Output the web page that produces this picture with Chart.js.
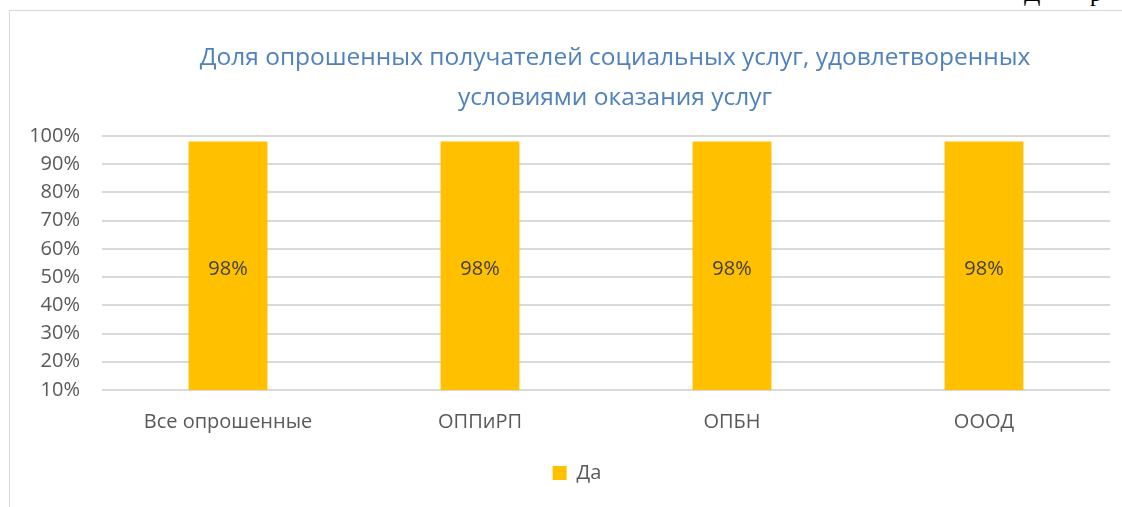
<!DOCTYPE html>
<html>
<head>
<meta charset="utf-8">
<script src="https://cdn.jsdelivr.net/npm/chart.js@4"></script>
<style>
  html, body { margin: 0; padding: 0; background: #fff; overflow: hidden; }
  #wrap { position: relative; width: 1122px; height: 507px; }
  #frame { position: absolute; left: 9px; top: 10px; width: 1200px; height: 600px;
           border-top: 1px solid #d9d9d9; border-left: 1px solid #d9d9d9; }
  .cut { position: absolute; top: -20px; font-family: "Liberation Serif", serif; font-size: 24px; color: #000; }
  canvas { position: absolute; left: 0; top: 0; }
</style>
</head>
<body>
<div id="wrap">
  <div id="frame"></div>
  <span class="cut" style="left:1024px">Д</span>
  <span class="cut" style="left:1090px">р</span>
  <canvas id="chart" width="1122" height="507"></canvas>
</div>
<script>
const categories = ['Все опрошенные', 'ОППиРП', 'ОПБН', 'ОООД'];
const seriesName = 'Да';
const values = [98, 98, 98, 98];
const titleLines = ['Доля опрошенных получателей социальных услуг, удовлетворенных', 'условиями оказания услуг'];

const FONT = '"Open Sans", "Noto Sans", sans-serif';

// puts "98%" in the middle of the visible part of each bar
const barLabels = {
  id: 'barLabels',
  afterDatasetsDraw(chart) {
    const ctx = chart.ctx;
    const meta = chart.getDatasetMeta(0);
    const bottom = chart.chartArea.bottom;
    ctx.save();
    ctx.font = '20px ' + FONT;
    ctx.fillStyle = '#404040';
    ctx.textAlign = 'center';
    ctx.textBaseline = 'middle';
    meta.data.forEach((bar, i) => {
      const mid = (bar.y + bottom) / 2;
      ctx.fillText(values[i] + '%', bar.x, mid + 4);
    });
    ctx.restore();
  }
};

// excel centres title/legend on the whole chart frame, which runs past the page edge
const boxNudge = {
  id: 'boxNudge',
  afterLayout(chart) {
    chart.legend.left += 22;
    chart.legend.right += 22;
    chart.titleBlock.left += 9;
    chart.titleBlock.right += 9;
  }
};

new Chart(document.getElementById('chart'), {
  type: 'bar',
  data: {
    labels: categories,
    datasets: [{
      label: seriesName,
      data: values,
      backgroundColor: '#FFC000',
      borderWidth: 0,
      categoryPercentage: 1,
      barPercentage: 0.313
    }]
  },
  options: {
    responsive: false,
    animation: false,
    layout: { padding: { left: 0, right: 12, top: 38, bottom: 14 } },
    plugins: {
      title: {
        display: true,
        fullSize: false,
        text: titleLines,
        color: '#4F81BD',
        font: { family: FONT, size: 24.5, weight: 'normal', lineHeight: 1.63 },
        padding: { top: 0, bottom: 18 }
      },
      legend: {
        position: 'bottom',
        labels: {
          color: '#595959',
          font: { family: FONT, size: 20 },
          boxWidth: 14,
          boxHeight: 14,
          padding: 17
        }
      },
      tooltip: { enabled: false }
    },
    scales: {
      x: {
        grid: { display: false },
        border: { display: false },
        ticks: { color: '#595959', font: { family: FONT, size: 20 }, padding: 12 }
      },
      y: {
        min: 10,
        max: 100,
        afterFit: (scale) => { scale.width = 102; },
        grid: { color: '#d9d9d9', lineWidth: 2, drawTicks: false },
        border: { display: false },
        ticks: {
          stepSize: 10,
          color: '#595959',
          font: { family: FONT, size: 20 },
          padding: 22,
          callback: (v) => v + '%'
        }
      }
    }
  },
  plugins: [barLabels, boxNudge]
});
</script>
</body>
</html>
